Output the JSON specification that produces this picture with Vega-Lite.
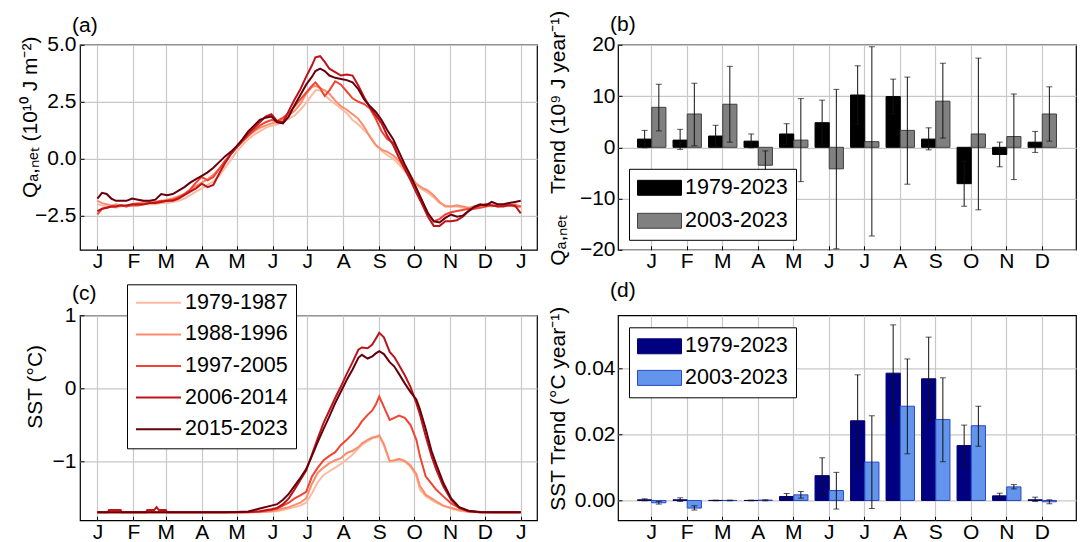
{
"$schema": "https://vega.github.io/schema/vega-lite/v6.json",
"background": "white",
"padding": {"left": 18, "top": 8.8, "right": 2, "bottom": 2},
"bounds": "flush",
"columns": 2,
"spacing": {"row": 65.5, "column": 81},
"config": {
  "font": "Liberation Sans",
  "view": {"stroke": "black", "strokeWidth": 1.2},
  "axis": {"labelFontSize": 21, "titleFontSize": 21, "labelColor": "black", "titleColor": "black", "titleFontWeight": "normal", "gridColor": "#c8c8c8", "gridWidth": 1.2, "domain": false, "ticks": true, "tickSize": -4, "tickColor": "black", "tickWidth": 1, "labelFlush": false, "labelOverlap": false, "labelFont": "Liberation Sans", "titleFont": "Liberation Sans"},
  "axisX": {"labelPadding": 5, "labelAngle": 0},
  "axisY": {"labelPadding": 8},
  "title": {"fontSize": 21, "fontWeight": "normal", "anchor": "start", "frame": "group", "font": "Liberation Sans", "color": "black"},
  "legend": {"labelFontSize": 21.5, "labelFont": "Liberation Sans", "labelColor": "black", "strokeColor": "black", "fillColor": "white", "padding": 8, "cornerRadius": 0, "labelOffset": 3, "labelLimit": 0, "symbolOpacity": 1}
},
"datasets": {
"qa": [
{"s":"1979-1987","d":0,"v":-2.0},{"s":"1979-1987","d":4,"v":-2.05},{"s":"1979-1987","d":8,"v":-2.1},{"s":"1979-1987","d":12,"v":-2.1},{"s":"1979-1987","d":16,"v":-2.15},{"s":"1979-1987","d":20,"v":-2.1},{"s":"1979-1987","d":25,"v":-2.05},{"s":"1979-1987","d":30,"v":-2.05},{"s":"1979-1987","d":35,"v":-2.0},{"s":"1979-1987","d":40,"v":-2.0},{"s":"1979-1987","d":45,"v":-2.0},{"s":"1979-1987","d":50,"v":-2.0},{"s":"1979-1987","d":55,"v":-1.95},{"s":"1979-1987","d":60,"v":-1.95},{"s":"1979-1987","d":65,"v":-1.9},{"s":"1979-1987","d":70,"v":-1.85},{"s":"1979-1987","d":75,"v":-1.75},{"s":"1979-1987","d":80,"v":-1.6},{"s":"1979-1987","d":85,"v":-1.45},{"s":"1979-1987","d":90,"v":-1.3},{"s":"1979-1987","d":95,"v":-1.15},{"s":"1979-1987","d":100,"v":-1.0},{"s":"1979-1987","d":105,"v":-0.75},{"s":"1979-1987","d":110,"v":-0.4},{"s":"1979-1987","d":115,"v":-0.05},{"s":"1979-1987","d":120,"v":0.3},{"s":"1979-1987","d":125,"v":0.6},{"s":"1979-1987","d":130,"v":0.85},{"s":"1979-1987","d":135,"v":1.05},{"s":"1979-1987","d":140,"v":1.2},{"s":"1979-1987","d":145,"v":1.35},{"s":"1979-1987","d":150,"v":1.45},{"s":"1979-1987","d":155,"v":1.5},{"s":"1979-1987","d":160,"v":1.65},{"s":"1979-1987","d":165,"v":1.75},{"s":"1979-1987","d":170,"v":1.9},{"s":"1979-1987","d":175,"v":2.15},{"s":"1979-1987","d":180,"v":2.45},{"s":"1979-1987","d":185,"v":2.8},{"s":"1979-1987","d":188,"v":3.0},{"s":"1979-1987","d":192,"v":3.0},{"s":"1979-1987","d":196,"v":2.8},{"s":"1979-1987","d":200,"v":2.6},{"s":"1979-1987","d":205,"v":2.4},{"s":"1979-1987","d":210,"v":2.2},{"s":"1979-1987","d":215,"v":2.0},{"s":"1979-1987","d":220,"v":1.7},{"s":"1979-1987","d":225,"v":1.5},{"s":"1979-1987","d":230,"v":1.25},{"s":"1979-1987","d":235,"v":1.0},{"s":"1979-1987","d":240,"v":0.6},{"s":"1979-1987","d":245,"v":0.35},{"s":"1979-1987","d":250,"v":0.15},{"s":"1979-1987","d":255,"v":0.0},{"s":"1979-1987","d":260,"v":-0.25},{"s":"1979-1987","d":265,"v":-0.55},{"s":"1979-1987","d":270,"v":-0.85},{"s":"1979-1987","d":275,"v":-1.15},{"s":"1979-1987","d":280,"v":-1.35},{"s":"1979-1987","d":285,"v":-1.5},{"s":"1979-1987","d":290,"v":-1.7},{"s":"1979-1987","d":295,"v":-1.95},{"s":"1979-1987","d":300,"v":-2.05},{"s":"1979-1987","d":305,"v":-2.1},{"s":"1979-1987","d":310,"v":-2.1},{"s":"1979-1987","d":315,"v":-2.15},{"s":"1979-1987","d":320,"v":-2.2},{"s":"1979-1987","d":325,"v":-2.15},{"s":"1979-1987","d":330,"v":-2.1},{"s":"1979-1987","d":335,"v":-2.05},{"s":"1979-1987","d":340,"v":-2.1},{"s":"1979-1987","d":345,"v":-2.05},{"s":"1979-1987","d":350,"v":-2.0},{"s":"1979-1987","d":355,"v":-2.05},{"s":"1979-1987","d":360,"v":-2.05},{"s":"1979-1987","d":365,"v":-2.1},
{"s":"1988-1996","d":0,"v":-1.85},{"s":"1988-1996","d":4,"v":-1.95},{"s":"1988-1996","d":8,"v":-2.0},{"s":"1988-1996","d":12,"v":-2.05},{"s":"1988-1996","d":16,"v":-2.0},{"s":"1988-1996","d":20,"v":-2.05},{"s":"1988-1996","d":25,"v":-2.1},{"s":"1988-1996","d":30,"v":-2.0},{"s":"1988-1996","d":35,"v":-1.95},{"s":"1988-1996","d":40,"v":-1.9},{"s":"1988-1996","d":45,"v":-1.9},{"s":"1988-1996","d":50,"v":-1.95},{"s":"1988-1996","d":55,"v":-1.9},{"s":"1988-1996","d":60,"v":-1.8},{"s":"1988-1996","d":65,"v":-1.75},{"s":"1988-1996","d":70,"v":-1.65},{"s":"1988-1996","d":75,"v":-1.55},{"s":"1988-1996","d":80,"v":-1.4},{"s":"1988-1996","d":85,"v":-1.2},{"s":"1988-1996","d":90,"v":-1.05},{"s":"1988-1996","d":95,"v":-0.9},{"s":"1988-1996","d":100,"v":-0.7},{"s":"1988-1996","d":105,"v":-0.45},{"s":"1988-1996","d":110,"v":-0.15},{"s":"1988-1996","d":115,"v":0.2},{"s":"1988-1996","d":120,"v":0.5},{"s":"1988-1996","d":125,"v":0.75},{"s":"1988-1996","d":130,"v":1.0},{"s":"1988-1996","d":135,"v":1.2},{"s":"1988-1996","d":140,"v":1.35},{"s":"1988-1996","d":145,"v":1.45},{"s":"1988-1996","d":150,"v":1.55},{"s":"1988-1996","d":155,"v":1.6},{"s":"1988-1996","d":160,"v":1.75},{"s":"1988-1996","d":165,"v":1.9},{"s":"1988-1996","d":170,"v":2.1},{"s":"1988-1996","d":175,"v":2.4},{"s":"1988-1996","d":180,"v":2.85},{"s":"1988-1996","d":185,"v":3.15},{"s":"1988-1996","d":188,"v":3.2},{"s":"1988-1996","d":192,"v":3.1},{"s":"1988-1996","d":196,"v":3.0},{"s":"1988-1996","d":200,"v":2.85},{"s":"1988-1996","d":205,"v":2.55},{"s":"1988-1996","d":210,"v":2.3},{"s":"1988-1996","d":215,"v":2.15},{"s":"1988-1996","d":220,"v":1.95},{"s":"1988-1996","d":225,"v":1.75},{"s":"1988-1996","d":230,"v":1.4},{"s":"1988-1996","d":235,"v":0.95},{"s":"1988-1996","d":240,"v":0.6},{"s":"1988-1996","d":245,"v":0.4},{"s":"1988-1996","d":250,"v":0.3},{"s":"1988-1996","d":255,"v":0.15},{"s":"1988-1996","d":260,"v":-0.1},{"s":"1988-1996","d":265,"v":-0.45},{"s":"1988-1996","d":270,"v":-0.75},{"s":"1988-1996","d":275,"v":-1.1},{"s":"1988-1996","d":280,"v":-1.28},{"s":"1988-1996","d":285,"v":-1.4},{"s":"1988-1996","d":290,"v":-1.62},{"s":"1988-1996","d":295,"v":-1.9},{"s":"1988-1996","d":300,"v":-2.1},{"s":"1988-1996","d":305,"v":-2.1},{"s":"1988-1996","d":310,"v":-2.05},{"s":"1988-1996","d":315,"v":-2.1},{"s":"1988-1996","d":320,"v":-2.15},{"s":"1988-1996","d":325,"v":-2.1},{"s":"1988-1996","d":330,"v":-2.05},{"s":"1988-1996","d":335,"v":-2.0},{"s":"1988-1996","d":340,"v":-2.05},{"s":"1988-1996","d":345,"v":-2.1},{"s":"1988-1996","d":350,"v":-2.05},{"s":"1988-1996","d":355,"v":-2.05},{"s":"1988-1996","d":360,"v":-2.0},{"s":"1988-1996","d":365,"v":-2.1},
{"s":"1997-2005","d":0,"v":-2.45},{"s":"1997-2005","d":4,"v":-2.2},{"s":"1997-2005","d":8,"v":-2.15},{"s":"1997-2005","d":12,"v":-2.1},{"s":"1997-2005","d":16,"v":-2.1},{"s":"1997-2005","d":20,"v":-2.05},{"s":"1997-2005","d":25,"v":-2.1},{"s":"1997-2005","d":30,"v":-2.05},{"s":"1997-2005","d":35,"v":-2.05},{"s":"1997-2005","d":40,"v":-2.0},{"s":"1997-2005","d":45,"v":-1.95},{"s":"1997-2005","d":50,"v":-1.9},{"s":"1997-2005","d":55,"v":-1.85},{"s":"1997-2005","d":60,"v":-1.85},{"s":"1997-2005","d":65,"v":-1.8},{"s":"1997-2005","d":70,"v":-1.7},{"s":"1997-2005","d":75,"v":-1.55},{"s":"1997-2005","d":80,"v":-1.35},{"s":"1997-2005","d":85,"v":-1.05},{"s":"1997-2005","d":90,"v":-0.8},{"s":"1997-2005","d":95,"v":-0.95},{"s":"1997-2005","d":100,"v":-0.8},{"s":"1997-2005","d":105,"v":-0.45},{"s":"1997-2005","d":110,"v":-0.1},{"s":"1997-2005","d":115,"v":0.2},{"s":"1997-2005","d":120,"v":0.5},{"s":"1997-2005","d":125,"v":0.75},{"s":"1997-2005","d":130,"v":1.0},{"s":"1997-2005","d":135,"v":1.25},{"s":"1997-2005","d":140,"v":1.45},{"s":"1997-2005","d":145,"v":1.6},{"s":"1997-2005","d":150,"v":1.7},{"s":"1997-2005","d":155,"v":1.65},{"s":"1997-2005","d":160,"v":1.8},{"s":"1997-2005","d":165,"v":2.0},{"s":"1997-2005","d":170,"v":2.3},{"s":"1997-2005","d":175,"v":2.6},{"s":"1997-2005","d":180,"v":2.9},{"s":"1997-2005","d":185,"v":3.2},{"s":"1997-2005","d":188,"v":3.35},{"s":"1997-2005","d":192,"v":3.1},{"s":"1997-2005","d":196,"v":2.75},{"s":"1997-2005","d":200,"v":3.0},{"s":"1997-2005","d":205,"v":3.4},{"s":"1997-2005","d":210,"v":3.25},{"s":"1997-2005","d":215,"v":2.95},{"s":"1997-2005","d":220,"v":2.65},{"s":"1997-2005","d":225,"v":2.5},{"s":"1997-2005","d":230,"v":2.4},{"s":"1997-2005","d":235,"v":2.2},{"s":"1997-2005","d":240,"v":1.75},{"s":"1997-2005","d":245,"v":1.2},{"s":"1997-2005","d":250,"v":0.85},{"s":"1997-2005","d":255,"v":0.7},{"s":"1997-2005","d":260,"v":0.05},{"s":"1997-2005","d":265,"v":-0.35},{"s":"1997-2005","d":270,"v":-0.8},{"s":"1997-2005","d":275,"v":-1.3},{"s":"1997-2005","d":280,"v":-1.85},{"s":"1997-2005","d":285,"v":-2.4},{"s":"1997-2005","d":290,"v":-2.75},{"s":"1997-2005","d":295,"v":-2.65},{"s":"1997-2005","d":300,"v":-2.45},{"s":"1997-2005","d":305,"v":-2.35},{"s":"1997-2005","d":310,"v":-2.3},{"s":"1997-2005","d":315,"v":-2.25},{"s":"1997-2005","d":320,"v":-2.2},{"s":"1997-2005","d":325,"v":-2.2},{"s":"1997-2005","d":330,"v":-2.15},{"s":"1997-2005","d":335,"v":-2.1},{"s":"1997-2005","d":340,"v":-2.05},{"s":"1997-2005","d":345,"v":-2.05},{"s":"1997-2005","d":350,"v":-2.05},{"s":"1997-2005","d":355,"v":-2.0},{"s":"1997-2005","d":360,"v":-2.1},{"s":"1997-2005","d":365,"v":-2.1},
{"s":"2006-2014","d":0,"v":-2.3},{"s":"2006-2014","d":4,"v":-2.2},{"s":"2006-2014","d":8,"v":-2.15},{"s":"2006-2014","d":12,"v":-2.1},{"s":"2006-2014","d":16,"v":-2.1},{"s":"2006-2014","d":20,"v":-2.05},{"s":"2006-2014","d":25,"v":-2.05},{"s":"2006-2014","d":30,"v":-2.0},{"s":"2006-2014","d":35,"v":-2.0},{"s":"2006-2014","d":40,"v":-2.0},{"s":"2006-2014","d":45,"v":-1.95},{"s":"2006-2014","d":50,"v":-1.95},{"s":"2006-2014","d":55,"v":-1.9},{"s":"2006-2014","d":60,"v":-1.85},{"s":"2006-2014","d":65,"v":-1.85},{"s":"2006-2014","d":70,"v":-1.75},{"s":"2006-2014","d":75,"v":-1.6},{"s":"2006-2014","d":80,"v":-1.45},{"s":"2006-2014","d":85,"v":-1.3},{"s":"2006-2014","d":90,"v":-1.1},{"s":"2006-2014","d":95,"v":-1.25},{"s":"2006-2014","d":100,"v":-1.15},{"s":"2006-2014","d":105,"v":-0.65},{"s":"2006-2014","d":110,"v":-0.2},{"s":"2006-2014","d":115,"v":0.2},{"s":"2006-2014","d":120,"v":0.5},{"s":"2006-2014","d":125,"v":0.8},{"s":"2006-2014","d":130,"v":1.1},{"s":"2006-2014","d":135,"v":1.35},{"s":"2006-2014","d":140,"v":1.6},{"s":"2006-2014","d":145,"v":1.85},{"s":"2006-2014","d":150,"v":1.95},{"s":"2006-2014","d":155,"v":1.65},{"s":"2006-2014","d":160,"v":1.6},{"s":"2006-2014","d":165,"v":2.1},{"s":"2006-2014","d":170,"v":2.6},{"s":"2006-2014","d":175,"v":3.05},{"s":"2006-2014","d":180,"v":3.6},{"s":"2006-2014","d":185,"v":4.1},{"s":"2006-2014","d":188,"v":4.45},{"s":"2006-2014","d":192,"v":4.5},{"s":"2006-2014","d":196,"v":4.25},{"s":"2006-2014","d":200,"v":3.95},{"s":"2006-2014","d":205,"v":3.8},{"s":"2006-2014","d":210,"v":3.65},{"s":"2006-2014","d":215,"v":3.7},{"s":"2006-2014","d":220,"v":3.65},{"s":"2006-2014","d":225,"v":3.2},{"s":"2006-2014","d":230,"v":2.7},{"s":"2006-2014","d":235,"v":2.25},{"s":"2006-2014","d":240,"v":1.9},{"s":"2006-2014","d":245,"v":1.55},{"s":"2006-2014","d":250,"v":1.0},{"s":"2006-2014","d":255,"v":0.6},{"s":"2006-2014","d":260,"v":0.05},{"s":"2006-2014","d":265,"v":-0.45},{"s":"2006-2014","d":270,"v":-0.95},{"s":"2006-2014","d":275,"v":-1.5},{"s":"2006-2014","d":280,"v":-2.0},{"s":"2006-2014","d":285,"v":-2.55},{"s":"2006-2014","d":290,"v":-2.95},{"s":"2006-2014","d":295,"v":-2.95},{"s":"2006-2014","d":300,"v":-2.75},{"s":"2006-2014","d":305,"v":-2.75},{"s":"2006-2014","d":310,"v":-2.7},{"s":"2006-2014","d":315,"v":-2.55},{"s":"2006-2014","d":320,"v":-2.3},{"s":"2006-2014","d":325,"v":-2.15},{"s":"2006-2014","d":330,"v":-2.05},{"s":"2006-2014","d":335,"v":-2.0},{"s":"2006-2014","d":340,"v":-2.05},{"s":"2006-2014","d":345,"v":-2.1},{"s":"2006-2014","d":350,"v":-2.1},{"s":"2006-2014","d":355,"v":-2.05},{"s":"2006-2014","d":360,"v":-2.05},{"s":"2006-2014","d":365,"v":-2.4},
{"s":"2015-2023","d":0,"v":-1.75},{"s":"2015-2023","d":4,"v":-1.5},{"s":"2015-2023","d":8,"v":-1.55},{"s":"2015-2023","d":12,"v":-1.75},{"s":"2015-2023","d":16,"v":-1.85},{"s":"2015-2023","d":20,"v":-1.85},{"s":"2015-2023","d":25,"v":-1.85},{"s":"2015-2023","d":30,"v":-1.75},{"s":"2015-2023","d":35,"v":-1.8},{"s":"2015-2023","d":40,"v":-1.85},{"s":"2015-2023","d":45,"v":-1.85},{"s":"2015-2023","d":50,"v":-1.8},{"s":"2015-2023","d":55,"v":-1.55},{"s":"2015-2023","d":60,"v":-1.6},{"s":"2015-2023","d":65,"v":-1.55},{"s":"2015-2023","d":70,"v":-1.4},{"s":"2015-2023","d":75,"v":-1.25},{"s":"2015-2023","d":80,"v":-1.05},{"s":"2015-2023","d":85,"v":-0.9},{"s":"2015-2023","d":90,"v":-0.75},{"s":"2015-2023","d":95,"v":-0.6},{"s":"2015-2023","d":100,"v":-0.4},{"s":"2015-2023","d":105,"v":-0.15},{"s":"2015-2023","d":110,"v":0.1},{"s":"2015-2023","d":115,"v":0.3},{"s":"2015-2023","d":120,"v":0.55},{"s":"2015-2023","d":125,"v":0.85},{"s":"2015-2023","d":130,"v":1.2},{"s":"2015-2023","d":135,"v":1.45},{"s":"2015-2023","d":140,"v":1.7},{"s":"2015-2023","d":145,"v":1.8},{"s":"2015-2023","d":150,"v":1.85},{"s":"2015-2023","d":155,"v":1.6},{"s":"2015-2023","d":160,"v":1.55},{"s":"2015-2023","d":165,"v":1.85},{"s":"2015-2023","d":170,"v":2.35},{"s":"2015-2023","d":175,"v":2.8},{"s":"2015-2023","d":180,"v":3.25},{"s":"2015-2023","d":185,"v":3.6},{"s":"2015-2023","d":188,"v":3.85},{"s":"2015-2023","d":192,"v":3.95},{"s":"2015-2023","d":196,"v":3.85},{"s":"2015-2023","d":200,"v":3.65},{"s":"2015-2023","d":205,"v":3.55},{"s":"2015-2023","d":210,"v":3.5},{"s":"2015-2023","d":215,"v":3.45},{"s":"2015-2023","d":220,"v":3.35},{"s":"2015-2023","d":225,"v":3.05},{"s":"2015-2023","d":230,"v":2.6},{"s":"2015-2023","d":235,"v":2.3},{"s":"2015-2023","d":240,"v":2.05},{"s":"2015-2023","d":245,"v":1.7},{"s":"2015-2023","d":250,"v":1.25},{"s":"2015-2023","d":255,"v":0.85},{"s":"2015-2023","d":260,"v":0.3},{"s":"2015-2023","d":265,"v":-0.25},{"s":"2015-2023","d":270,"v":-0.75},{"s":"2015-2023","d":275,"v":-1.3},{"s":"2015-2023","d":280,"v":-1.85},{"s":"2015-2023","d":285,"v":-2.4},{"s":"2015-2023","d":290,"v":-2.75},{"s":"2015-2023","d":295,"v":-2.8},{"s":"2015-2023","d":300,"v":-2.6},{"s":"2015-2023","d":305,"v":-2.45},{"s":"2015-2023","d":310,"v":-2.55},{"s":"2015-2023","d":315,"v":-2.5},{"s":"2015-2023","d":320,"v":-2.3},{"s":"2015-2023","d":325,"v":-2.1},{"s":"2015-2023","d":330,"v":-2.0},{"s":"2015-2023","d":335,"v":-2.05},{"s":"2015-2023","d":340,"v":-1.9},{"s":"2015-2023","d":345,"v":-2.0},{"s":"2015-2023","d":350,"v":-2.0},{"s":"2015-2023","d":355,"v":-1.95},{"s":"2015-2023","d":360,"v":-1.9},{"s":"2015-2023","d":365,"v":-1.85}
],
"sst": [
{"s":"1979-1987","d":0,"v":-1.69},{"s":"1979-1987","d":120,"v":-1.69},{"s":"1979-1987","d":130,"v":-1.69},{"s":"1979-1987","d":140,"v":-1.69},{"s":"1979-1987","d":150,"v":-1.68},{"s":"1979-1987","d":155,"v":-1.675},{"s":"1979-1987","d":160,"v":-1.66},{"s":"1979-1987","d":165,"v":-1.64},{"s":"1979-1987","d":170,"v":-1.62},{"s":"1979-1987","d":175,"v":-1.6},{"s":"1979-1987","d":180,"v":-1.56},{"s":"1979-1987","d":185,"v":-1.43},{"s":"1979-1987","d":190,"v":-1.28},{"s":"1979-1987","d":195,"v":-1.18},{"s":"1979-1987","d":200,"v":-1.13},{"s":"1979-1987","d":205,"v":-1.08},{"s":"1979-1987","d":210,"v":-1.03},{"s":"1979-1987","d":215,"v":-0.97},{"s":"1979-1987","d":220,"v":-0.9},{"s":"1979-1987","d":225,"v":-0.82},{"s":"1979-1987","d":228,"v":-0.77},{"s":"1979-1987","d":233,"v":-0.72},{"s":"1979-1987","d":237,"v":-0.68},{"s":"1979-1987","d":240,"v":-0.67},{"s":"1979-1987","d":243,"v":-0.66},{"s":"1979-1987","d":247,"v":-0.78},{"s":"1979-1987","d":252,"v":-1.0},{"s":"1979-1987","d":256,"v":-0.99},{"s":"1979-1987","d":260,"v":-0.97},{"s":"1979-1987","d":265,"v":-1.0},{"s":"1979-1987","d":270,"v":-1.07},{"s":"1979-1987","d":275,"v":-1.2},{"s":"1979-1987","d":278,"v":-1.38},{"s":"1979-1987","d":283,"v":-1.47},{"s":"1979-1987","d":288,"v":-1.52},{"s":"1979-1987","d":292,"v":-1.56},{"s":"1979-1987","d":298,"v":-1.6},{"s":"1979-1987","d":305,"v":-1.64},{"s":"1979-1987","d":312,"v":-1.67},{"s":"1979-1987","d":320,"v":-1.685},{"s":"1979-1987","d":330,"v":-1.69},{"s":"1979-1987","d":365,"v":-1.69},
{"s":"1988-1996","d":0,"v":-1.69},{"s":"1988-1996","d":120,"v":-1.69},{"s":"1988-1996","d":130,"v":-1.69},{"s":"1988-1996","d":140,"v":-1.685},{"s":"1988-1996","d":150,"v":-1.675},{"s":"1988-1996","d":155,"v":-1.66},{"s":"1988-1996","d":160,"v":-1.64},{"s":"1988-1996","d":165,"v":-1.62},{"s":"1988-1996","d":170,"v":-1.59},{"s":"1988-1996","d":175,"v":-1.56},{"s":"1988-1996","d":180,"v":-1.5},{"s":"1988-1996","d":185,"v":-1.3},{"s":"1988-1996","d":190,"v":-1.15},{"s":"1988-1996","d":195,"v":-1.08},{"s":"1988-1996","d":200,"v":-1.02},{"s":"1988-1996","d":205,"v":-0.98},{"s":"1988-1996","d":210,"v":-0.95},{"s":"1988-1996","d":215,"v":-0.88},{"s":"1988-1996","d":220,"v":-0.85},{"s":"1988-1996","d":225,"v":-0.8},{"s":"1988-1996","d":228,"v":-0.75},{"s":"1988-1996","d":233,"v":-0.7},{"s":"1988-1996","d":237,"v":-0.67},{"s":"1988-1996","d":240,"v":-0.66},{"s":"1988-1996","d":243,"v":-0.64},{"s":"1988-1996","d":247,"v":-0.76},{"s":"1988-1996","d":252,"v":-0.99},{"s":"1988-1996","d":256,"v":-0.98},{"s":"1988-1996","d":260,"v":-0.96},{"s":"1988-1996","d":265,"v":-0.99},{"s":"1988-1996","d":270,"v":-1.05},{"s":"1988-1996","d":275,"v":-1.17},{"s":"1988-1996","d":278,"v":-1.33},{"s":"1988-1996","d":283,"v":-1.45},{"s":"1988-1996","d":288,"v":-1.5},{"s":"1988-1996","d":292,"v":-1.54},{"s":"1988-1996","d":298,"v":-1.6},{"s":"1988-1996","d":305,"v":-1.63},{"s":"1988-1996","d":312,"v":-1.66},{"s":"1988-1996","d":320,"v":-1.68},{"s":"1988-1996","d":330,"v":-1.69},{"s":"1988-1996","d":365,"v":-1.69},
{"s":"1997-2005","d":0,"v":-1.69},{"s":"1997-2005","d":120,"v":-1.69},{"s":"1997-2005","d":130,"v":-1.69},{"s":"1997-2005","d":140,"v":-1.68},{"s":"1997-2005","d":150,"v":-1.66},{"s":"1997-2005","d":155,"v":-1.64},{"s":"1997-2005","d":160,"v":-1.6},{"s":"1997-2005","d":165,"v":-1.56},{"s":"1997-2005","d":170,"v":-1.5},{"s":"1997-2005","d":175,"v":-1.46},{"s":"1997-2005","d":180,"v":-1.41},{"s":"1997-2005","d":185,"v":-1.2},{"s":"1997-2005","d":190,"v":-1.08},{"s":"1997-2005","d":195,"v":-0.98},{"s":"1997-2005","d":200,"v":-0.92},{"s":"1997-2005","d":205,"v":-0.87},{"s":"1997-2005","d":210,"v":-0.77},{"s":"1997-2005","d":215,"v":-0.7},{"s":"1997-2005","d":220,"v":-0.62},{"s":"1997-2005","d":225,"v":-0.52},{"s":"1997-2005","d":228,"v":-0.45},{"s":"1997-2005","d":233,"v":-0.36},{"s":"1997-2005","d":237,"v":-0.3},{"s":"1997-2005","d":240,"v":-0.22},{"s":"1997-2005","d":243,"v":-0.11},{"s":"1997-2005","d":247,"v":-0.25},{"s":"1997-2005","d":252,"v":-0.43},{"s":"1997-2005","d":256,"v":-0.4},{"s":"1997-2005","d":260,"v":-0.37},{"s":"1997-2005","d":265,"v":-0.4},{"s":"1997-2005","d":270,"v":-0.5},{"s":"1997-2005","d":275,"v":-0.7},{"s":"1997-2005","d":278,"v":-0.92},{"s":"1997-2005","d":283,"v":-1.2},{"s":"1997-2005","d":288,"v":-1.3},{"s":"1997-2005","d":292,"v":-1.38},{"s":"1997-2005","d":298,"v":-1.47},{"s":"1997-2005","d":305,"v":-1.57},{"s":"1997-2005","d":312,"v":-1.63},{"s":"1997-2005","d":320,"v":-1.675},{"s":"1997-2005","d":330,"v":-1.69},{"s":"1997-2005","d":365,"v":-1.69},
{"s":"2006-2014","d":0,"v":-1.69},{"s":"2006-2014","d":9,"v":-1.69},{"s":"2006-2014","d":10,"v":-1.66},{"s":"2006-2014","d":20,"v":-1.66},{"s":"2006-2014","d":21,"v":-1.69},{"s":"2006-2014","d":42,"v":-1.69},{"s":"2006-2014","d":43,"v":-1.66},{"s":"2006-2014","d":49,"v":-1.66},{"s":"2006-2014","d":51,"v":-1.62},{"s":"2006-2014","d":53,"v":-1.66},{"s":"2006-2014","d":59,"v":-1.66},{"s":"2006-2014","d":60,"v":-1.69},{"s":"2006-2014","d":120,"v":-1.69},{"s":"2006-2014","d":130,"v":-1.685},{"s":"2006-2014","d":140,"v":-1.675},{"s":"2006-2014","d":150,"v":-1.65},{"s":"2006-2014","d":155,"v":-1.63},{"s":"2006-2014","d":160,"v":-1.58},{"s":"2006-2014","d":165,"v":-1.5},{"s":"2006-2014","d":170,"v":-1.38},{"s":"2006-2014","d":175,"v":-1.25},{"s":"2006-2014","d":180,"v":-1.12},{"s":"2006-2014","d":185,"v":-0.9},{"s":"2006-2014","d":190,"v":-0.68},{"s":"2006-2014","d":195,"v":-0.47},{"s":"2006-2014","d":200,"v":-0.3},{"s":"2006-2014","d":205,"v":-0.13},{"s":"2006-2014","d":210,"v":0.03},{"s":"2006-2014","d":215,"v":0.2},{"s":"2006-2014","d":220,"v":0.36},{"s":"2006-2014","d":225,"v":0.53},{"s":"2006-2014","d":228,"v":0.56},{"s":"2006-2014","d":233,"v":0.55},{"s":"2006-2014","d":237,"v":0.6},{"s":"2006-2014","d":240,"v":0.68},{"s":"2006-2014","d":243,"v":0.76},{"s":"2006-2014","d":247,"v":0.7},{"s":"2006-2014","d":252,"v":0.5},{"s":"2006-2014","d":256,"v":0.43},{"s":"2006-2014","d":260,"v":0.32},{"s":"2006-2014","d":265,"v":0.18},{"s":"2006-2014","d":270,"v":0.02},{"s":"2006-2014","d":275,"v":-0.2},{"s":"2006-2014","d":278,"v":-0.35},{"s":"2006-2014","d":283,"v":-0.65},{"s":"2006-2014","d":288,"v":-0.92},{"s":"2006-2014","d":292,"v":-1.1},{"s":"2006-2014","d":298,"v":-1.33},{"s":"2006-2014","d":305,"v":-1.52},{"s":"2006-2014","d":312,"v":-1.63},{"s":"2006-2014","d":320,"v":-1.675},{"s":"2006-2014","d":330,"v":-1.69},{"s":"2006-2014","d":365,"v":-1.69},
{"s":"2015-2023","d":0,"v":-1.69},{"s":"2015-2023","d":110,"v":-1.69},{"s":"2015-2023","d":120,"v":-1.685},{"s":"2015-2023","d":130,"v":-1.68},{"s":"2015-2023","d":140,"v":-1.64},{"s":"2015-2023","d":150,"v":-1.6},{"s":"2015-2023","d":155,"v":-1.58},{"s":"2015-2023","d":160,"v":-1.52},{"s":"2015-2023","d":165,"v":-1.44},{"s":"2015-2023","d":170,"v":-1.33},{"s":"2015-2023","d":175,"v":-1.22},{"s":"2015-2023","d":180,"v":-1.1},{"s":"2015-2023","d":185,"v":-0.92},{"s":"2015-2023","d":190,"v":-0.73},{"s":"2015-2023","d":195,"v":-0.55},{"s":"2015-2023","d":200,"v":-0.38},{"s":"2015-2023","d":205,"v":-0.2},{"s":"2015-2023","d":210,"v":-0.04},{"s":"2015-2023","d":215,"v":0.12},{"s":"2015-2023","d":220,"v":0.26},{"s":"2015-2023","d":225,"v":0.42},{"s":"2015-2023","d":228,"v":0.46},{"s":"2015-2023","d":233,"v":0.41},{"s":"2015-2023","d":237,"v":0.44},{"s":"2015-2023","d":240,"v":0.48},{"s":"2015-2023","d":243,"v":0.51},{"s":"2015-2023","d":247,"v":0.47},{"s":"2015-2023","d":252,"v":0.36},{"s":"2015-2023","d":256,"v":0.3},{"s":"2015-2023","d":260,"v":0.2},{"s":"2015-2023","d":265,"v":0.07},{"s":"2015-2023","d":270,"v":-0.05},{"s":"2015-2023","d":275,"v":-0.15},{"s":"2015-2023","d":278,"v":-0.28},{"s":"2015-2023","d":283,"v":-0.55},{"s":"2015-2023","d":288,"v":-0.85},{"s":"2015-2023","d":292,"v":-1.03},{"s":"2015-2023","d":298,"v":-1.28},{"s":"2015-2023","d":305,"v":-1.5},{"s":"2015-2023","d":312,"v":-1.62},{"s":"2015-2023","d":320,"v":-1.67},{"s":"2015-2023","d":330,"v":-1.685},{"s":"2015-2023","d":340,"v":-1.69},{"s":"2015-2023","d":365,"v":-1.69}
],
"qt": [
{"m":1,"s":"1979-2023","v":1.6,"lo":-0.1,"hi":3.3},{"m":1,"s":"2003-2023","v":7.8,"lo":3.2,"hi":12.3},
{"m":2,"s":"1979-2023","v":1.4,"lo":-0.4,"hi":3.5},{"m":2,"s":"2003-2023","v":6.5,"lo":0.3,"hi":12.5},
{"m":3,"s":"1979-2023","v":2.2,"lo":0.1,"hi":4.3},{"m":3,"s":"2003-2023","v":8.4,"lo":1.0,"hi":15.8},
{"m":4,"s":"1979-2023","v":1.2,"lo":-0.1,"hi":2.6},{"m":4,"s":"2003-2023","v":-3.5,"lo":-6.3,"hi":-0.7},
{"m":5,"s":"1979-2023","v":2.6,"lo":0.6,"hi":4.6},{"m":5,"s":"2003-2023","v":1.4,"lo":-6.7,"hi":9.5},
{"m":6,"s":"1979-2023","v":4.8,"lo":0.4,"hi":9.2},{"m":6,"s":"2003-2023","v":-4.2,"lo":-19.8,"hi":11.3},
{"m":7,"s":"1979-2023","v":10.2,"lo":4.5,"hi":15.9},{"m":7,"s":"2003-2023","v":1.1,"lo":-17.3,"hi":19.6},
{"m":8,"s":"1979-2023","v":9.9,"lo":6.5,"hi":13.3},{"m":8,"s":"2003-2023","v":3.3,"lo":-7.2,"hi":13.7},
{"m":9,"s":"1979-2023","v":1.6,"lo":-0.5,"hi":3.8},{"m":9,"s":"2003-2023","v":9.0,"lo":1.8,"hi":16.4},
{"m":10,"s":"1979-2023","v":-7.1,"lo":-11.5,"hi":-2.7},{"m":10,"s":"2003-2023","v":2.6,"lo":-12.2,"hi":17.4},
{"m":11,"s":"1979-2023","v":-1.4,"lo":-3.8,"hi":1.0},{"m":11,"s":"2003-2023","v":2.1,"lo":-6.3,"hi":10.4},
{"m":12,"s":"1979-2023","v":1.0,"lo":-1.0,"hi":3.1},{"m":12,"s":"2003-2023","v":6.5,"lo":1.2,"hi":11.8}
],
"st": [
{"m":1,"s":"1979-2023","v":0.0002,"lo":-0.0001,"hi":0.0005},{"m":1,"s":"2003-2023","v":-0.0007,"lo":-0.0011,"hi":-0.0003},
{"m":2,"s":"1979-2023","v":0.0002,"lo":-0.0003,"hi":0.0008},{"m":2,"s":"2003-2023","v":-0.0023,"lo":-0.0029,"hi":-0.0016},
{"m":3,"s":"1979-2023","v":0.0,"lo":-0.0001,"hi":0.0001},{"m":3,"s":"2003-2023","v":0.0,"lo":-0.0001,"hi":0.0001},
{"m":4,"s":"1979-2023","v":0.0,"lo":-0.0001,"hi":0.0001},{"m":4,"s":"2003-2023","v":0.0001,"lo":-0.0001,"hi":0.0002},
{"m":5,"s":"1979-2023","v":0.0012,"lo":0.0003,"hi":0.0021},{"m":5,"s":"2003-2023","v":0.0017,"lo":0.0007,"hi":0.0027},
{"m":6,"s":"1979-2023","v":0.0075,"lo":0.0016,"hi":0.0129},{"m":6,"s":"2003-2023","v":0.003,"lo":-0.0026,"hi":0.0085},
{"m":7,"s":"1979-2023","v":0.0241,"lo":0.0101,"hi":0.038},{"m":7,"s":"2003-2023","v":0.0116,"lo":-0.0024,"hi":0.0256},
{"m":8,"s":"1979-2023","v":0.0385,"lo":0.024,"hi":0.0531},{"m":8,"s":"2003-2023","v":0.0285,"lo":0.0141,"hi":0.0428},
{"m":9,"s":"1979-2023","v":0.0368,"lo":0.024,"hi":0.0494},{"m":9,"s":"2003-2023","v":0.0245,"lo":0.0117,"hi":0.0371},
{"m":10,"s":"1979-2023","v":0.0166,"lo":0.0104,"hi":0.0228},{"m":10,"s":"2003-2023","v":0.0226,"lo":0.0164,"hi":0.0285},
{"m":11,"s":"1979-2023","v":0.0014,"lo":0.0007,"hi":0.0022},{"m":11,"s":"2003-2023","v":0.0041,"lo":0.0035,"hi":0.0048},
{"m":12,"s":"1979-2023","v":0.0002,"lo":-0.0003,"hi":0.001},{"m":12,"s":"2003-2023","v":-0.0004,"lo":-0.001,"hi":0.0002}
]
},
"concat": [
{
  "width": 457, "height": 205,
  "title": {"text": "(a)", "dx": -8, "dy": 14.2, "offset": 12},
  "data": {"name": "qa"},
  "mark": {"type": "line", "strokeWidth": 2, "clip": true},
  "encoding": {
    "x": {"field": "d", "type": "quantitative", "scale": {"domain": [-15, 379], "nice": false, "zero": false},
          "axis": {"values": [0,31,59,90,120,151,181,212,243,273,304,334,365], "labelExpr": "['J','F','M','A','M','J','J','A','S','O','N','D','J'][indexof([0,31,59,90,120,151,181,212,243,273,304,334,365], datum.value)]", "title": null, "grid": true}},
    "y": {"field": "v", "type": "quantitative", "scale": {"domain": [-4, 5], "nice": false, "zero": false},
          "axis": {"values": [-2.5, 0, 2.5, 5], "format": ".1f", "title": "Qₐ,ₙₑₜ (10¹⁰ J m⁻²)", "titleX": -40, "titleY": 72, "grid": true}},
    "color": {"field": "s", "type": "nominal", "scale": {"domain": ["1979-1987","1988-1996","1997-2005","2006-2014","2015-2023"], "range": ["#fcbba1","#fc8d6c","#f14432","#bc141a","#67000d"]}, "legend": null}
  }
},
{
  "width": 458, "height": 205,
  "title": {"text": "(b)", "dx": -8, "dy": 37.2, "offset": 12},
  "data": {"name": "qt"},
  "encoding": {
    "x": {"field": "m", "type": "ordinal", "scale": {"paddingInner": 0.2, "paddingOuter": 0.55},
          "axis": {"labelExpr": "['J','F','M','A','M','J','J','A','S','O','N','D'][datum.value-1]", "title": null, "grid": true, "bandPosition": 0.5}},
    "xOffset": {"field": "s", "type": "nominal", "scale": {"domain": ["1979-2023","2003-2023"]}}
  },
  "layer": [
    {"mark": {"type": "bar", "strokeWidth": 1},
     "encoding": {
       "y": {"field": "v", "type": "quantitative", "scale": {"domain": [-20, 20], "nice": false},
             "axis": {"values": [-20,-10,0,10,20], "title": "Qₐ,ₙₑₜ\u2003Trend (10⁹ J year⁻¹)", "titleX": -49, "titleY": 93, "labelPadding": 7, "grid": true}},
       "fill": {"field": "s", "type": "nominal", "scale": {"domain": ["1979-2023","2003-2023"], "range": ["#000000","#808080"]},
                "legend": {"orient": "none", "legendX": 11, "legendY": 124, "title": null, "symbolType": "M-1,-0.34L1,-0.34L1,0.34L-1,0.34Z", "symbolSize": 1936, "symbolStrokeColor": "#333333", "symbolStrokeWidth": 1, "clipHeight": 22, "rowPadding": 11}},
       "stroke": {"field": "s", "type": "nominal", "scale": {"domain": ["1979-2023","2003-2023"], "range": ["#000000","#404040"]}, "legend": null}
     }},
    {"mark": {"type": "rule", "color": "#111111", "strokeWidth": 1},
     "encoding": {"y": {"field": "lo", "type": "quantitative"}, "y2": {"field": "hi"}}},
    {"mark": {"type": "tick", "color": "#111111", "thickness": 1, "size": 6},
     "encoding": {"y": {"field": "lo", "type": "quantitative"}}},
    {"mark": {"type": "tick", "color": "#111111", "thickness": 1, "size": 6},
     "encoding": {"y": {"field": "hi", "type": "quantitative"}}}
  ]
},
{
  "width": 457, "height": 205,
  "title": {"text": "(c)", "dx": -8, "dy": 33, "offset": 13},
  "data": {"name": "sst"},
  "mark": {"type": "line", "strokeWidth": 2, "clip": true},
  "encoding": {
    "x": {"field": "d", "type": "quantitative", "scale": {"domain": [-15, 379], "nice": false, "zero": false},
          "axis": {"values": [0,31,59,90,120,151,181,212,243,273,304,334,365], "labelExpr": "['J','F','M','A','M','J','J','A','S','O','N','D','J'][indexof([0,31,59,90,120,151,181,212,243,273,304,334,365], datum.value)]", "title": null, "grid": true}},
    "y": {"field": "v", "type": "quantitative", "scale": {"domain": [-1.8, 1.0], "nice": false, "zero": false},
          "axis": {"values": [-1, 0, 1], "format": "d", "title": "SST (°C)", "titleX": -35, "titleY": 71, "grid": true}},
    "color": {"field": "s", "type": "nominal", "scale": {"domain": ["1979-1987","1988-1996","1997-2005","2006-2014","2015-2023"], "range": ["#fcbba1","#fc8d6c","#f14432","#bc141a","#67000d"]},
              "legend": {"orient": "none", "legendX": 47, "legendY": -31, "title": null, "symbolType": "stroke", "symbolSize": 2025, "symbolStrokeWidth": 2, "clipHeight": 21, "rowPadding": 9.6}}
  }
},
{
  "width": 458, "height": 205,
  "title": {"text": "(d)", "dx": -8, "dy": 8, "offset": 13},
  "data": {"name": "st"},
  "encoding": {
    "x": {"field": "m", "type": "ordinal", "scale": {"paddingInner": 0.2, "paddingOuter": 0.55},
          "axis": {"labelExpr": "['J','F','M','A','M','J','J','A','S','O','N','D'][datum.value-1]", "title": null, "grid": true, "bandPosition": 0.5}},
    "xOffset": {"field": "s", "type": "nominal", "scale": {"domain": ["1979-2023","2003-2023"]}}
  },
  "layer": [
    {"mark": {"type": "bar", "strokeWidth": 1},
     "encoding": {
       "y": {"field": "v", "type": "quantitative", "scale": {"domain": [-0.006, 0.056], "nice": false, "zero": false},
             "axis": {"values": [0, 0.02, 0.04], "format": ".2f", "title": "SST Trend (°C year⁻¹)", "titleX": -49, "titleY": 93, "labelPadding": 7, "grid": true}},
       "fill": {"field": "s", "type": "nominal", "scale": {"domain": ["1979-2023","2003-2023"], "range": ["#000080","#6495ed"]},
                "legend": {"orient": "none", "legendX": 11, "legendY": 12, "title": null, "symbolType": "M-1,-0.34L1,-0.34L1,0.34L-1,0.34Z", "symbolSize": 1936, "symbolStrokeColor": "#1c2c9c", "symbolStrokeWidth": 1, "clipHeight": 22, "rowPadding": 9.6}},
       "stroke": {"field": "s", "type": "nominal", "scale": {"domain": ["1979-2023","2003-2023"], "range": ["#000070","#2a48c8"]}, "legend": null}
     }},
    {"mark": {"type": "rule", "color": "#111111", "strokeWidth": 1},
     "encoding": {"y": {"field": "lo", "type": "quantitative"}, "y2": {"field": "hi"}}},
    {"mark": {"type": "tick", "color": "#111111", "thickness": 1, "size": 6},
     "encoding": {"y": {"field": "lo", "type": "quantitative"}}},
    {"mark": {"type": "tick", "color": "#111111", "thickness": 1, "size": 6},
     "encoding": {"y": {"field": "hi", "type": "quantitative"}}}
  ]
}
],
"resolve": {
  "scale": {"x": "independent", "y": "independent", "color": "independent", "fill": "independent", "stroke": "independent", "xOffset": "independent"},
  "axis": {"x": "independent", "y": "independent"},
  "legend": {"color": "independent", "fill": "independent", "stroke": "independent"}
}
}
